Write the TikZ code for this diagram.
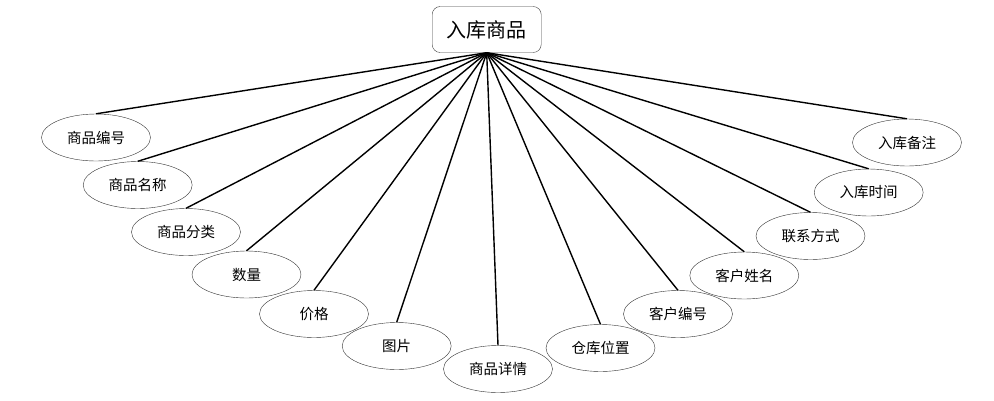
\documentclass[tikz,border=0pt]{standalone}
\usepackage{fontspec}
\setmainfont{Noto Sans CJK SC}
\usepackage{tikz}
\usetikzlibrary{shapes.geometric}

\begin{document}
\begin{tikzpicture}[
  x=1pt, y=-1pt,
  font=\fontsize{14.5}{16}\selectfont,
  entity/.style={
    rectangle,
    rounded corners=8pt,
    draw=black!75,
    fill=white,
    align=center,
    minimum width=109pt,
    minimum height=46pt,
    font=\fontsize{20}{22}\selectfont
  },
  attr/.style={
    ellipse,
    draw=black!80,
    fill=white,
    inner sep=0pt,
    minimum width=109pt,
    minimum height=47pt
  },
  link/.style={line width=1.4pt, draw=black}
]
  \useasboundingbox (0,0) rectangle (994,400);

  \node[entity] (goods) at (486.7,29.5) {入库商品};

  \node[attr] (code)   at (96,137.5)  {商品编号};
  \node[attr] (name)   at (137.7,185) {商品名称};
  \node[attr] (cat)    at (186,232)   {商品分类};
  \node[attr] (qty)    at (246.5,274.5) {数量};
  \node[attr] (price)  at (314,314)   {价格};
  \node[attr] (pic)    at (396.7,346) {图片};
  \node[attr] (detail) at (498,369)   {商品详情};
  \node[attr] (loc)    at (600.5,348) {仓库位置};
  \node[attr] (cno)    at (678,314)   {客户编号};
  \node[attr] (cname)  at (744.3,275.5) {客户姓名};
  \node[attr] (phone)  at (810.5,236) {联系方式};
  \node[attr] (time)   at (868.7,192.5) {入库时间};
  \node[attr] (note)   at (907,142.5) {入库备注};

  \foreach \a in {code,name,cat,qty,price,pic,detail,loc,cno,cname,phone,time,note}
    \draw[link] (goods.south) -- (\a.north);
\end{tikzpicture}
\end{document}
